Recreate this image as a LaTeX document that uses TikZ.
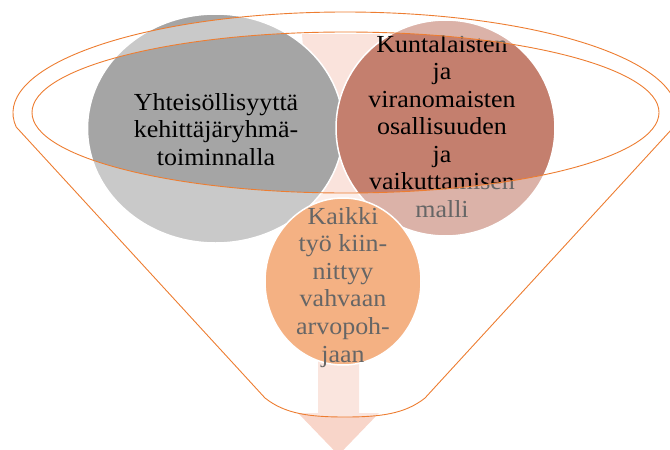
\documentclass[tikz,border=0pt]{standalone}
\usepackage{fontspec}
\setmainfont{Liberation Serif}
\definecolor{gry}{HTML}{A5A5A5}
\definecolor{brn}{HTML}{C47F6E}
\definecolor{org}{HTML}{ED7D31}
\definecolor{arrw}{HTML}{F8D5C9}
\definecolor{arrtop}{HTML}{FAE3DC}
\begin{document}
\begin{tikzpicture}[x=1pt,y=-1pt,
  lbl/.style={font=\fontsize{24.5}{27.5}\selectfont, inner sep=0pt, anchor=base, xscale=1.06, text=black},
  disc/.style={draw=white, line width=1.5pt},
  funnelline/.style={draw=org, line width=0.9pt},
  overlay/.style={fill=white, fill opacity=0.4, even odd rule}]
\useasboundingbox (0,0) rectangle (670,450);
% funnel key points
\coordinate (kl) at (16.2,127);
\coordinate (bl) at (265,398);
\coordinate (bm) at (345,417);
\coordinate (br) at (425,398);
\coordinate (ic) at (345.5,112.5);
% background arrow
\fill[arrtop] (302,34) -- (380,34) -- (359,250) -- (318,250) -- cycle;
\fill[arrw] (318,250) -- (359,250) -- (359,413) -- (379,413) -- (338.5,455) -- (298,413) -- (318,413) -- cycle;
% circles
\filldraw[fill=gry, disc] (215.5,128.5) ellipse [x radius=128, y radius=114.5];
\filldraw[fill=brn, disc] (445.5,128) ellipse [x radius=109.5, y radius=108];
\filldraw[fill=org, disc] (343,281.5) ellipse [x radius=78, y radius=83.5];
% texts
\foreach \t [count=\i] in {Yhteisöllisyyttä, kehittäjäryhmä-, toiminnalla}
  \node[lbl] (g\i) at (216,{110+27.5*(\i-1)}) {\t};
\foreach \t [count=\i] in {Kuntalaisten, ja, viranomaisten, osallisuuden, ja, vaikuttamisen, malli}
  \node[lbl] (b\i) at (442,{52+27.5*(\i-1)}) {\t};
\foreach \t [count=\i] in {Kaikki, työ kiin-, nittyy, vahvaan, arvopoh-, jaan}
  \node[lbl] (o\i) at (343,{224+27.6*(\i-1)}) {\t};
% funnel overlay
\path[overlay] (kl) arc[start angle=187.97, end angle=-7.97, x radius=332pt, y radius=101pt]
   -- (br) .. controls (405,414) and (380,417) .. (bm)
   .. controls (310,417) and (285,414) .. (bl) -- cycle
   (ic) ellipse [x radius=313.5, y radius=80.5];
\draw[funnelline] (kl) arc[start angle=187.97, end angle=-7.97, x radius=332pt, y radius=101pt]
   -- (br) .. controls (405,414) and (380,417) .. (bm)
   .. controls (310,417) and (285,414) .. (bl) -- cycle;
\draw[funnelline] (ic) ellipse [x radius=313.5, y radius=80.5];
\end{tikzpicture}
\end{document}
